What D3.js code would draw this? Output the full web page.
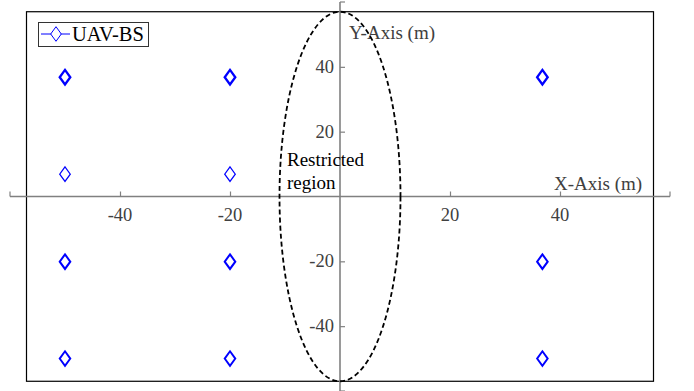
<!DOCTYPE html>
<html>
<head>
<meta charset="utf-8">
<script src="https://cdn.jsdelivr.net/npm/d3@7"></script>
<style>
  body { margin: 0; background: #fff; }
  text { font-family: "Liberation Serif", "Times New Roman", serif; }
</style>
</head>
<body>
<script>
/******************************************************************************/
/* DATA                                                                       */
/******************************************************************************/
var uavX = [-50, -20, 36.8];
var uavY = [36.8, 6.9, -20.1, -50];
// which columns are present in each row
var rowCols = [[0, 1, 2], [0, 1], [0, 1, 2], [0, 1, 2]];
var xTicks = [-40, -20, 20, 40];
var yTicks = [-40, -20, 20, 40];
var axisEnds = [-60, 60];
var boxLim = [-57, 57];
var zone = {cx: 0, cy: 0, rx: 11, ry: 57};
var legendLabel = 'UAV-BS';

/******************************************************************************/
/* GLOBAL                                                                     */
/******************************************************************************/
var width  = 694;
var height = 391;
var axisGrey = '#808080';
var textGrey = '#404040';
var fontSize = 18.5;
// overlapping markers look heavier in the reference
var rowStroke = [2.3, 1.2, 2.0, 1.9];

var x = d3.scaleLinear().domain([-60, 60]).range([10, 670]);
var y = d3.scaleLinear().domain([-60, 60]).range([391, 2]);

var points = [];
rowCols.forEach(function(cols, r) {
  cols.forEach(function(c) {
    points.push({x: uavX[c], y: uavY[r], row: r});
  });
});

var diamond = function(cx, cy) {
  var w = 5.3, h = 7.3;
  return 'M' + cx + ',' + (cy - h) + 'L' + (cx + w) + ',' + cy +
         'L' + cx + ',' + (cy + h) + 'L' + (cx - w) + ',' + cy + 'Z';
};

/******************************************************************************/
/* RUNTIME                                                                    */
/******************************************************************************/
var svg = d3.select('body')
  .append('svg')
  .attr('width', width)
  .attr('height', height);

// outer box
svg.append('rect')
  .attr('x', x(boxLim[0]))
  .attr('y', y(boxLim[1]))
  .attr('width', x(boxLim[1]) - x(boxLim[0]))
  .attr('height', y(boxLim[0]) - y(boxLim[1]))
  .attr('fill', 'none')
  .attr('stroke', '#000')
  .attr('stroke-width', 1.2);

// X axis through origin
var xAxis = d3.axisTop(x).tickValues(xTicks).tickSize(5).tickFormat('');
var gx = svg.append('g')
  .attr('transform', 'translate(0,' + y(0) + ')')
  .call(xAxis);
gx.select('.domain').remove();
gx.selectAll('line').attr('stroke', axisGrey).attr('stroke-width', 1.2);
gx.append('line')
  .attr('x1', x(axisEnds[0])).attr('x2', x(axisEnds[1]))
  .attr('stroke', axisGrey).attr('stroke-width', 1.6);
gx.selectAll('.endtick')
  .data(axisEnds).enter().append('line')
  .attr('x1', function(d) { return x(d); })
  .attr('x2', function(d) { return x(d); })
  .attr('y1', 0).attr('y2', -5)
  .attr('stroke', axisGrey).attr('stroke-width', 1.2);
gx.selectAll('.xlab')
  .data(xTicks).enter().append('text')
  .attr('x', function(d) { return x(d); })
  .attr('y', 24)
  .attr('text-anchor', 'middle')
  .attr('fill', textGrey)
  .attr('font-size', fontSize)
  .text(function(d) { return d; });

// Y axis through origin
var yAxis = d3.axisRight(y).tickValues(yTicks).tickSize(5).tickFormat('');
var gy = svg.append('g')
  .attr('transform', 'translate(' + x(0) + ',0)')
  .call(yAxis);
gy.select('.domain').remove();
gy.selectAll('line').attr('stroke', axisGrey).attr('stroke-width', 1.2);
gy.append('line')
  .attr('y1', y(axisEnds[0])).attr('y2', y(axisEnds[1]))
  .attr('stroke', axisGrey).attr('stroke-width', 1.6);
gy.selectAll('.endtick')
  .data(axisEnds).enter().append('line')
  .attr('y1', function(d) { return y(d); })
  .attr('y2', function(d) { return y(d); })
  .attr('x1', 0).attr('x2', 5)
  .attr('stroke', axisGrey).attr('stroke-width', 1.2);
gy.selectAll('.ylab')
  .data(yTicks).enter().append('text')
  .attr('x', -6)
  .attr('y', function(d) { return y(d) + 6; })
  .attr('text-anchor', 'end')
  .attr('fill', textGrey)
  .attr('font-size', fontSize)
  .text(function(d) { return d; });

// axis names
svg.append('text')
  .attr('x', 349).attr('y', 39)
  .attr('fill', textGrey).attr('font-size', 19)
  .text('Y-Axis (m)');
svg.append('text')
  .attr('x', 554).attr('y', 190)
  .attr('fill', textGrey).attr('font-size', 19)
  .text('X-Axis (m)');

// restricted zone
svg.append('ellipse')
  .attr('cx', x(zone.cx))
  .attr('cy', y(zone.cy))
  .attr('rx', x(zone.rx) - x(0))
  .attr('ry', y(0) - y(zone.ry))
  .attr('fill', 'none')
  .attr('stroke', '#000')
  .attr('stroke-width', 1.8)
  .attr('stroke-dasharray', '5,3');

var zoneText = svg.append('text')
  .attr('x', 287).attr('y', 166)
  .attr('fill', '#000').attr('font-size', 19);
zoneText.append('tspan').attr('x', 287).attr('dy', 0).text('Restricted');
zoneText.append('tspan').attr('x', 287).attr('dy', 23).text('region');

// UAV markers
svg.selectAll('.uav')
  .data(points).enter().append('path')
  .attr('class', 'uav')
  .attr('d', function(d) { return diamond(x(d.x), y(d.y)); })
  .attr('fill', 'none')
  .attr('stroke', '#0000ff')
  .attr('stroke-width', function(d) { return rowStroke[d.row]; });

// legend
var lg = svg.append('g');
lg.append('rect')
  .attr('x', 38.5).attr('y', 22.5)
  .attr('width', 110).attr('height', 24)
  .attr('fill', '#fff')
  .attr('stroke', '#333')
  .attr('stroke-width', 1);
lg.append('line')
  .attr('x1', 41).attr('x2', 70).attr('y1', 34).attr('y2', 34)
  .attr('stroke', '#0000ff').attr('stroke-width', 1);
lg.append('path')
  .attr('d', diamond(56, 34))
  .attr('fill', '#fff')
  .attr('stroke', '#0000ff')
  .attr('stroke-width', 1);
lg.append('text')
  .attr('x', 72).attr('y', 41)
  .attr('fill', '#000')
  .attr('font-size', 20.5)
  .text(legendLabel);
</script>
</body>
</html>
